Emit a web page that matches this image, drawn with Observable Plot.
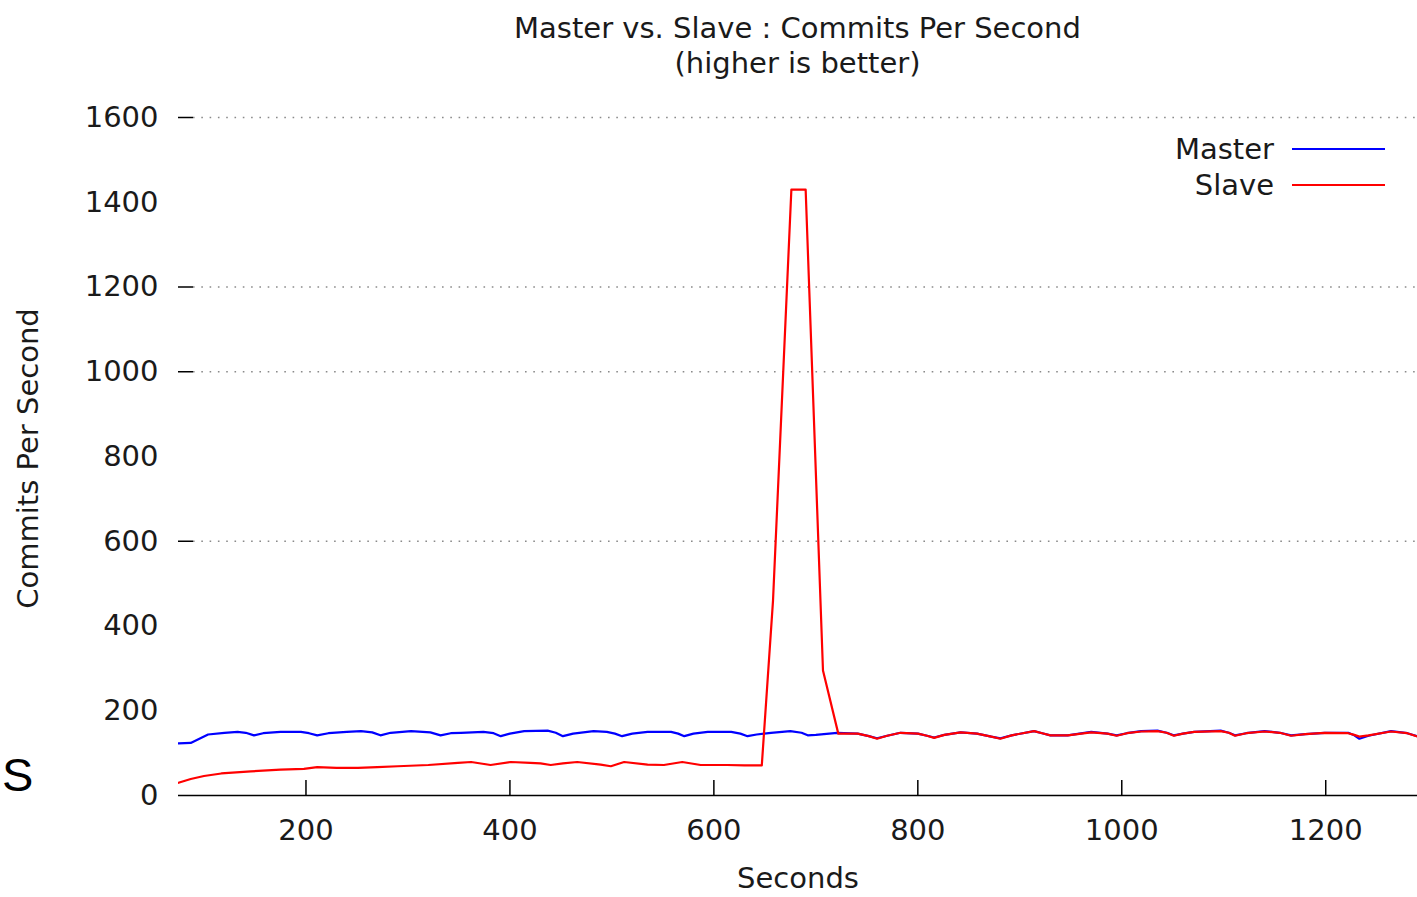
<!DOCTYPE html>
<html>
<head>
<meta charset="utf-8">
<script src="https://cdn.jsdelivr.net/npm/d3@7"></script>
<script src="https://cdn.jsdelivr.net/npm/@observablehq/plot@0.6"></script>
<style>
  html, body { margin: 0; padding: 0; background: #fff; }
  body { width: 1417px; height: 897px; position: relative; overflow: hidden; font-family: "DejaVu Sans", sans-serif; color: #1a1a1a; }
  #head { position: relative; height: 90px; }
  .ttl { position: absolute; left: 0; width: 1595px; text-align: center; font-size: 29px; line-height: 36px; white-space: nowrap; }
  #title { top: 10px; }
  #subtitle { top: 45px; }
  #legend { position: absolute; top: 131px; left: 1100px; width: 290px; font-size: 29px; }
  .lrow { position: relative; height: 36px; line-height: 36px; }
  .lrow span.lab { position: absolute; right: 116px; white-space: nowrap; }
  .lrow span.sw { position: absolute; left: 192px; width: 93px; top: 17px; height: 0; border-top: 2px solid; }
  #stray { position: absolute; left: 2px; top: 748px; font-family: "Liberation Sans", Arial, sans-serif; font-size: 47px; line-height: 54px; color: #000; }
</style>
</head>
<body>
<div id="head">
  <div class="ttl" id="title">Master vs. Slave : Commits Per Second</div>
  <div class="ttl" id="subtitle">(higher is better)</div>
</div>
<div id="chart"></div>
<div id="legend"></div>
<div id="stray">S</div>
<script>
// ---- data ----
const seriesNames = ["Master", "Slave"];
const seriesColors = ["#0000ff", "#ff0000"];

const masterSeconds = [
  75, 87, 104, 120, 133, 141, 149, 158, 175, 195,
  203, 211, 222, 240, 254, 265, 273, 283, 303, 322,
  332, 342, 352, 374, 384, 391, 400, 414, 437, 445,
  452, 462, 482, 495, 503, 510, 520, 535, 558, 565,
  571, 580, 594, 617, 626, 633, 642, 656, 675, 686,
  692, 700, 721, 741, 752, 760, 770, 783, 800, 809,
  816, 826, 842, 858, 872, 881, 892, 914, 922, 930,
  947, 970, 986, 995, 1005, 1019, 1035, 1044, 1051, 1060,
  1071, 1097, 1105, 1111, 1122, 1140, 1155, 1166, 1180, 1199,
  1222, 1228, 1233, 1242, 1264, 1280, 1290
];
const masterValues = [
  123, 124, 144, 148, 150, 148, 142, 147, 150, 150,
  147, 142, 147, 150, 152, 149, 142, 148, 152, 149,
  142, 147, 148, 150, 147, 140, 146, 152, 153, 148,
  140, 146, 152, 150, 146, 140, 146, 150, 150, 146,
  140, 146, 150, 150, 146, 140, 144, 148, 152, 148,
  142, 143, 148, 146, 140, 135, 141, 148, 146, 141,
  137, 143, 149, 146, 139, 135, 142, 152, 147, 142,
  142, 150, 146, 142, 147, 152, 153, 148, 142, 146,
  150, 153, 148, 142, 147, 152, 148, 142, 145, 148,
  148, 142, 134, 141, 152, 147, 140
];

const slaveSeconds = [
  75, 87, 100, 117, 146, 175, 198, 211, 230, 251,
  270, 290, 320, 349, 362, 381, 401, 420, 430, 440,
  452, 466, 489, 499, 512, 535, 551, 569, 587, 600,
  613, 630, 647, 658, 676, 690, 707, 722, 741, 752,
  760, 770, 783, 800, 809, 816, 826, 842, 858, 872,
  881, 892, 914, 922, 930, 947, 970, 986, 995, 1005,
  1019, 1035, 1044, 1051, 1060, 1071, 1097, 1105, 1111, 1122,
  1140, 1155, 1166, 1180, 1199, 1222, 1228, 1233, 1242, 1264,
  1280, 1290
];
const slaveValues = [
  30, 39, 46, 52, 57, 61, 63, 67, 65, 65,
  67, 69, 72, 77, 79, 72, 79, 77, 76, 72,
  76, 79, 73, 69, 79, 73, 72, 79, 72, 72,
  72, 71, 71, 460, 1430, 1430, 295, 146, 146, 140,
  134, 141, 148, 146, 141, 136, 143, 149, 146, 139,
  134, 142, 152, 147, 142, 142, 149, 146, 141, 147,
  151, 152, 148, 141, 146, 150, 152, 148, 141, 147,
  151, 148, 141, 145, 148, 147, 143, 139, 142, 151,
  147, 139
];

const xDomain = [75, 1290];
const yDomain = [0, 1600];
const xTicks = [200, 400, 600, 800, 1000, 1200];
const yTicks = [0, 200, 400, 600, 800, 1000, 1200, 1400, 1600];
const gridTicks = [600, 1000, 1200, 1600];

// ---- build table ----
const rows = [
  ...masterSeconds.map((s, i) => ({series: "Master", seconds: s, value: masterValues[i]})),
  ...slaveSeconds.map((s, i) => ({series: "Slave", seconds: s, value: slaveValues[i]}))
];

const W = 1417, H = 807;
const mL = 178, mR = 0, mT = 27, mB = 102;
const plotW = W - mL - mR, plotH = H - mT - mB;
const FS = 29;

const chart = Plot.plot({
  width: W,
  height: H,
  marginLeft: mL,
  marginRight: mR,
  marginTop: mT,
  marginBottom: mB,
  style: {fontFamily: "DejaVu Sans, sans-serif", color: "#1a1a1a", background: "#fff", overflow: "visible"},
  x: {domain: xDomain},
  y: {domain: yDomain},
  color: {domain: seriesNames, range: seriesColors},
  marks: [
    // dotted grid
    Plot.tickY(gridTicks, {y: d => d, insetLeft: 15, stroke: "#8a8a8a", strokeWidth: 1.3, strokeDasharray: "1.6,6.7"}),
    // left ticks (inward)
    Plot.tickY(gridTicks, {y: d => d, insetRight: plotW - 15, stroke: "#000", strokeWidth: 1.5}),
    // bottom ticks (inward)
    Plot.tickX(xTicks, {x: d => d, insetTop: plotH - 15, stroke: "#000", strokeWidth: 1.5}),
    Plot.axisY(yTicks, {tickSize: 0, tickPadding: 20, fontSize: FS, label: null, tickFormat: d => String(d)}),
    Plot.axisX(xTicks, {tickSize: 0, tickPadding: 24, fontSize: FS, label: null, tickFormat: d => String(d)}),
    Plot.ruleY([0], {stroke: "#000", strokeWidth: 1.6}),
    Plot.line(rows, {x: "seconds", y: "value", z: "series", stroke: "series", strokeWidth: 2.2, clip: true}),
    Plot.text(["Seconds"], {frameAnchor: "bottom", dy: 92, fontSize: FS, fill: "#1a1a1a"}),
    Plot.text(["Commits Per Second"], {frameAnchor: "left", textAnchor: "middle", dx: -150, dy: 2, rotate: -90, fontSize: FS, fill: "#1a1a1a"})
  ]
});
document.getElementById("chart").appendChild(chart);

// legend
const leg = document.getElementById("legend");
seriesNames.forEach((n, i) => {
  const row = document.createElement("div");
  row.className = "lrow";
  const lab = document.createElement("span");
  lab.className = "lab";
  lab.textContent = n;
  const sw = document.createElement("span");
  sw.className = "sw";
  sw.style.borderTopColor = seriesColors[i];
  row.appendChild(lab);
  row.appendChild(sw);
  leg.appendChild(row);
});
</script>
</body>
</html>
